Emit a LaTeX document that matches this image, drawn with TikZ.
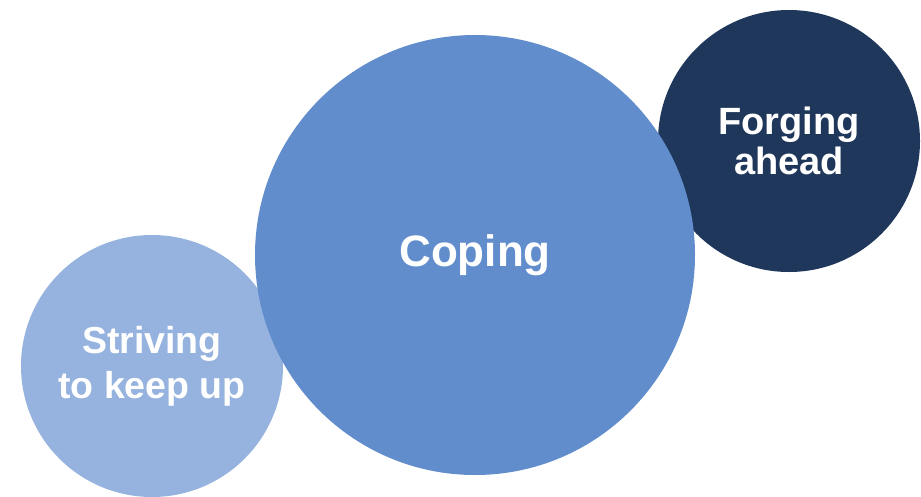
\documentclass[tikz,border=0pt]{standalone}
\usepackage{fontspec}
\setmainfont{Liberation Sans}
\definecolor{lightblue}{HTML}{95B3DE}
\definecolor{midblue}{HTML}{628DCD}
\definecolor{darkblue}{HTML}{1F375B}

\begin{document}
\begin{tikzpicture}
[x=1pt, y=-1pt, every node/.style={circle, inner sep=0pt, text=white, align=center, font=\bfseries}]
\useasboundingbox (0,0) rectangle (921,496);
\node[fill=lightblue, minimum size=262pt, font=\bfseries\fontsize{37.5}{45}\selectfont] (striving) at (152,366) {Striving\\to keep up};
\node[fill=darkblue, minimum size=262pt, font=\bfseries\fontsize{38}{40}\selectfont] (forging) at (789,141) {Forging\\ahead};
\node[fill=midblue, minimum size=440pt, font=\bfseries\fontsize{44}{48}\selectfont] (coping) at (475,255) {Coping};

\end{tikzpicture}
\end{document}
